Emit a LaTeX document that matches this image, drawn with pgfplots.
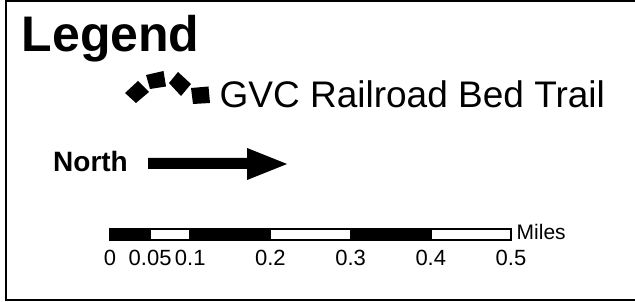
\documentclass[border=0pt]{standalone}
\usepackage{pgfplots}
\pgfplotsset{compat=1.18}
\usepackage{fontspec}
\setmainfont{Liberation Sans}
\begin{document}
\begin{tikzpicture}
\begin{axis}[
  name=main,
  width=635pt, height=302pt, scale only axis,
  xmin=0, xmax=635, ymin=0, ymax=302, y dir=reverse,
  hide axis, clip=true,
]
% frame (right side lies outside the picture)
\addplot[draw=black, line width=2pt] coordinates {(640,1) (6,1) (6,300) (640,300)};
% trail symbol: four rotated squares along an arc
\addplot[fill=black, draw=none] coordinates {(125,93) (138,81) (149,92) (136,103)} -- cycle;
\addplot[fill=black, draw=none] coordinates {(146,75) (163.5,71) (166,86.5) (150,89)} -- cycle;
\addplot[fill=black, draw=none] coordinates {(169,83) (178,72) (191,84) (181,96)} -- cycle;
\addplot[fill=black, draw=none] coordinates {(191,88) (208.5,86.5) (210,103) (193,104)} -- cycle;
% north arrow
\addplot[fill=black, draw=none] coordinates {(148,158) (247,158) (247,148) (287,164) (247,180) (247,169) (148,169)} -- cycle;
\node[anchor=base west, inner sep=0pt, font=\bfseries\fontsize{50}{54}\selectfont] at (axis cs:21.5,52) {Legend};
\node[anchor=base west, inner sep=0pt, font=\fontsize{37}{40}\selectfont] at (axis cs:219.5,108) {GVC Railroad Bed Trail};
\node[anchor=base west, inner sep=0pt, font=\bfseries\fontsize{28}{30}\selectfont] at (axis cs:53,172) {North};
\node[anchor=base west, inner sep=0pt, font=\fontsize{21}{24}\selectfont] at (axis cs:516.5,240) {Miles};
\coordinate (sb) at (axis cs:110,240);
\end{axis}
\begin{axis}[
  at={(sb)}, anchor=south west,
  width=401pt, height=11pt, scale only axis,
  xmin=0, xmax=0.5, ymin=0, ymax=1,
  clip=false,
  axis line style={draw=none},
  major tick length=0pt,
  ytick=\empty,
  xtick={0,0.05,0.1,0.2,0.3,0.4,0.5},
  xticklabels={0,0.05,0.1,0.2,0.3,0.4,0.5},
  xtick pos=bottom,
  xticklabel style={anchor=base, yshift=-26pt, inner sep=0pt, font=\fontsize{22}{24}\selectfont},
]
\addplot[fill=black, draw=black, line width=1.5pt] coordinates {(0,0) (0.05,0) (0.05,1) (0,1)} -- cycle;
\addplot[fill=white, draw=black, line width=1.5pt] coordinates {(0.05,0) (0.1,0) (0.1,1) (0.05,1)} -- cycle;
\addplot[fill=black, draw=black, line width=1.5pt] coordinates {(0.1,0) (0.2,0) (0.2,1) (0.1,1)} -- cycle;
\addplot[fill=white, draw=black, line width=1.5pt] coordinates {(0.2,0) (0.3,0) (0.3,1) (0.2,1)} -- cycle;
\addplot[fill=black, draw=black, line width=1.5pt] coordinates {(0.3,0) (0.4,0) (0.4,1) (0.3,1)} -- cycle;
\addplot[fill=white, draw=black, line width=1.5pt] coordinates {(0.4,0) (0.5,0) (0.5,1) (0.4,1)} -- cycle;
\end{axis}
\pgfresetboundingbox
\useasboundingbox (main.south west) rectangle (main.north east);
\end{tikzpicture}
\end{document}
